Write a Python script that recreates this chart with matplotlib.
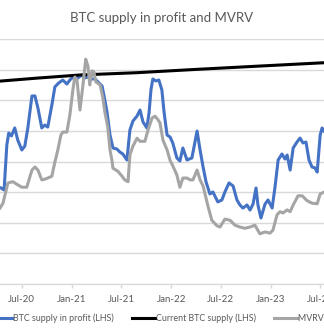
import matplotlib
matplotlib.use("Agg")
import matplotlib.pyplot as plt
import matplotlib.dates as mdates
import pandas as pd

plt.rcParams["font.family"] = ["Lato", "DejaVu Sans"]

# BTC supply in profit (million BTC, left axis)
profit_dates = [
    "2020-04-17", "2020-04-28", "2020-05-08", "2020-05-15", "2020-05-25", "2020-06-06",
    "2020-06-17", "2020-07-02", "2020-07-13", "2020-07-24", "2020-08-08", "2020-08-19",
    "2020-08-30", "2020-09-13", "2020-09-24", "2020-10-05", "2020-10-20", "2020-10-31",
    "2020-11-14", "2020-11-29", "2020-12-14", "2020-12-25", "2021-01-08", "2021-01-23",
    "2021-02-06", "2021-02-17", "2021-03-01", "2021-03-16", "2021-03-27", "2021-04-07",
    "2021-04-22", "2021-05-02", "2021-05-10", "2021-05-21", "2021-06-01", "2021-06-15",
    "2021-06-26", "2021-07-07", "2021-07-22", "2021-08-02", "2021-08-13", "2021-08-28",
    "2021-09-08", "2021-09-19", "2021-10-03", "2021-10-11", "2021-10-18", "2021-10-25",
    "2021-11-05", "2021-11-16", "2021-11-27", "2021-12-05", "2021-12-16", "2021-12-27",
    "2022-01-06", "2022-01-21", "2022-02-01", "2022-02-12", "2022-02-27", "2022-03-17",
    "2022-04-05", "2022-04-16", "2022-04-27", "2022-05-08", "2022-05-22", "2022-06-02",
    "2022-06-20", "2022-07-05", "2022-07-16", "2022-07-31", "2022-08-15", "2022-08-29",
    "2022-09-09", "2022-09-20", "2022-10-05", "2022-10-16", "2022-10-27", "2022-11-07",
    "2022-11-14", "2022-11-25", "2022-12-10", "2022-12-21", "2023-01-05", "2023-01-16",
    "2023-01-27", "2023-02-10", "2023-02-21", "2023-03-01", "2023-03-12", "2023-03-23",
    "2023-04-06", "2023-04-17", "2023-04-28", "2023-05-09", "2023-05-20", "2023-05-31",
    "2023-06-11", "2023-06-19", "2023-06-30", "2023-07-07", "2023-07-14",
]
profit_values = [
    11.27, 11.14, 14.08, 14.86, 14.67, 15.19,
    14.40, 13.75, 14.01, 15.19, 17.28, 17.28,
    16.49, 15.19, 15.38, 15.25, 16.69, 17.87,
    18.13, 18.32, 18.06, 18.32, 18.58, 18.45,
    18.65, 18.45, 18.52, 18.39, 18.39, 18.19,
    17.93, 17.02, 16.23, 14.73, 13.88, 13.82,
    13.62, 13.49, 13.10, 15.06, 15.64, 15.97,
    16.36, 15.58, 15.19, 16.17, 17.67, 18.39,
    18.26, 18.32, 17.67, 16.23, 14.73, 14.60,
    14.21, 13.23, 13.03, 13.88, 13.10, 13.23,
    14.99, 13.75, 12.64, 11.66, 10.88, 11.01,
    10.36, 10.49, 11.01, 11.60, 11.40, 10.49,
    10.16, 9.96, 10.16, 9.83, 10.22, 11.27,
    10.16, 9.31, 10.22, 10.49, 9.96, 11.40,
    13.10, 13.49, 13.16, 13.42, 12.44, 13.88,
    14.27, 14.53, 14.21, 14.27, 13.10, 12.64,
    12.58, 12.31, 14.73, 15.19, 14.99,
]

# current BTC supply (million BTC, left axis)
supply_dates = ["2020-04-13", "2020-08-30", "2021-01-31", "2021-08-28",
                "2022-03-17", "2022-10-16", "2023-07-14"]
supply_values = [18.25, 18.45, 18.65, 18.80, 19.00, 19.20, 19.45]

# MVRV (right axis)
mvrv_dates = [
    "2020-04-13", "2020-04-24", "2020-05-12", "2020-05-30", "2020-06-17", "2020-07-02",
    "2020-07-20", "2020-08-08", "2020-08-19", "2020-08-30", "2020-09-13", "2020-09-24",
    "2020-10-05", "2020-10-20", "2020-10-31", "2020-11-11", "2020-11-22", "2020-11-29",
    "2020-12-14", "2020-12-25", "2021-01-05", "2021-01-12", "2021-01-20", "2021-01-31",
    "2021-02-11", "2021-02-21", "2021-03-01", "2021-03-08", "2021-03-16", "2021-03-23",
    "2021-03-30", "2021-04-15", "2021-04-25", "2021-05-02", "2021-05-13", "2021-05-21",
    "2021-05-28", "2021-06-01", "2021-06-19", "2021-07-04", "2021-07-14", "2021-07-26",
    "2021-08-02", "2021-08-13", "2021-08-28", "2021-09-08", "2021-09-26", "2021-10-07",
    "2021-10-22", "2021-11-02", "2021-11-13", "2021-11-20", "2021-12-01", "2021-12-16",
    "2021-12-27", "2022-01-06", "2022-01-21", "2022-02-01", "2022-02-12", "2022-02-27",
    "2022-03-10", "2022-03-21", "2022-04-05", "2022-04-16", "2022-04-27", "2022-05-15",
    "2022-05-29", "2022-06-17", "2022-06-28", "2022-07-16", "2022-08-04", "2022-08-22",
    "2022-09-09", "2022-09-27", "2022-10-16", "2022-11-03", "2022-11-21", "2022-12-10",
    "2022-12-28", "2023-01-08", "2023-01-23", "2023-02-03", "2023-02-14", "2023-03-01",
    "2023-03-12", "2023-03-23", "2023-04-10", "2023-04-25", "2023-05-13", "2023-05-31",
    "2023-06-19", "2023-06-30", "2023-07-14",
]
mvrv_values = [
    1.24, 1.32, 1.65, 1.67, 1.62, 1.58,
    1.58, 1.86, 1.91, 1.86, 1.70, 1.71,
    1.73, 1.76, 1.99, 2.19, 2.43, 2.48,
    2.48, 2.76, 3.17, 3.38, 3.33, 2.84,
    3.25, 3.67, 3.56, 3.25, 3.48, 3.46,
    3.30, 3.25, 3.04, 2.81, 2.56, 2.19,
    2.02, 1.89, 1.84, 1.76, 1.70, 1.67,
    2.11, 2.25, 2.38, 2.33, 2.33, 2.51,
    2.71, 2.74, 2.68, 2.63, 2.35, 2.19,
    2.02, 1.93, 1.78, 1.58, 1.73, 1.73,
    1.70, 1.70, 1.86, 1.70, 1.60, 1.27,
    1.04, 0.95, 0.93, 1.06, 1.04, 0.96,
    0.93, 0.91, 0.93, 0.96, 0.82, 0.85,
    0.83, 0.88, 1.13, 1.18, 1.16, 1.21,
    1.18, 1.29, 1.44, 1.44, 1.36, 1.32,
    1.31, 1.47, 1.50,
]

blue = "#4472C4"
grey = "#A5A5A5"
text_col = "#595959"
grid_col = "#D9D9D9"

fig = plt.figure(figsize=(3.24, 3.34), dpi=100)
ax = fig.add_axes([0, 50 / 334, 1, 245 / 334])

l1, = ax.plot(pd.to_datetime(profit_dates), profit_values, color=blue, lw=2.2,
              label="BTC supply in profit (LHS)")
l2, = ax.plot(pd.to_datetime(supply_dates), supply_values, color="black", lw=2.2,
              label="Current BTC supply (LHS)")
ax.set_ylim(5, 21)
ax.set_yticks(range(5, 22, 2))
ax.grid(axis="y", color=grid_col, lw=1)
ax.set_axisbelow(True)

ax2 = ax.twinx()
l3, = ax2.plot(pd.to_datetime(mvrv_dates), mvrv_values, color=grey, lw=2.2,
               label="MVRV (RHS)")
ax2.set_ylim(0, 4)

ax.set_xlim(pd.Timestamp("2020-04-13"), pd.Timestamp("2023-07-14"))
ax.xaxis.set_major_locator(mdates.MonthLocator(bymonth=[1, 7]))
ax.xaxis.set_major_formatter(mdates.DateFormatter("%b-%y"))
ax.tick_params(axis="x", colors=grid_col, labelcolor=text_col, labelsize=7,
               length=3, width=1, pad=5)
ax.tick_params(axis="y", left=False, labelleft=False)
ax2.tick_params(axis="y", right=False, labelright=False)

for a in (ax, ax2):
    for s in ("top", "left", "right"):
        a.spines[s].set_visible(False)
    a.spines["bottom"].set_color(grid_col)

fig.suptitle("BTC supply in profit and MVRV", y=1 - 18 / 334, va="center",
             fontsize=9.5, color=text_col)

fig.legend(handles=[l1, l2, l3], loc="center left", ncol=3,
           bbox_to_anchor=(-11 / 324, 16 / 334), frameon=False, fontsize=6.4,
           labelcolor=text_col, handlelength=2.6, handletextpad=0.12,
           columnspacing=2.0, borderpad=0, borderaxespad=0)

fig.savefig("out.png", dpi=100)
